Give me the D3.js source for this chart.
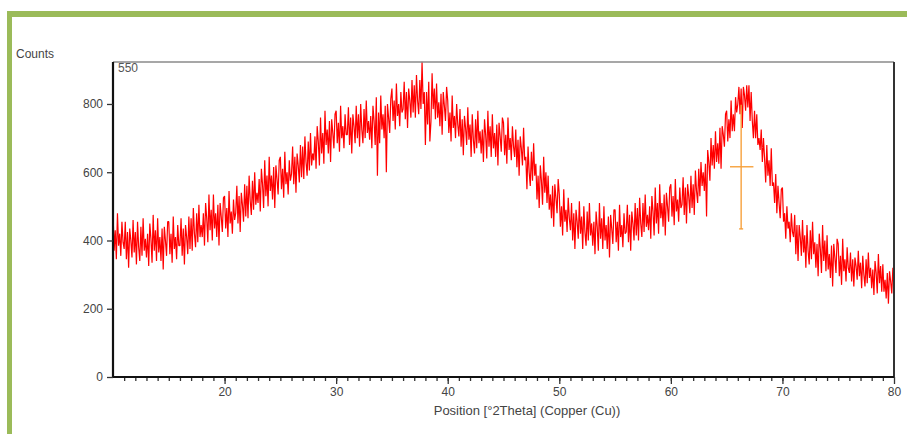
<!DOCTYPE html>
<meta charset="utf-8">

<style type="text/css">
	body {
		margin: 0;
		background: #ffffff;
	}
	svg {
		display: block;
		font-family: "Liberation Sans", Arial, sans-serif;
	}
</style>

<body>

</body>

<script src="https://d3js.org/d3.v7.min.js"></script>

<script>

	// scan settings
	var startAngle = 10;
	var stepSize = 0.1;

	// counts, one row per degree (N.0 ... N.9), last value at 80.0
	var counts = [
		490, 370, 430, 345, 480, 385, 420, 355, 455, 395,
		375, 455, 345, 425, 320, 435, 400, 350, 460, 365,
		425, 330, 455, 380, 340, 440, 355, 465, 370, 405,
		350, 420, 325, 450, 405, 335, 475, 370, 430, 340,
		465, 365, 410, 340, 435, 315, 440, 400, 355, 455,
		455, 360, 420, 335, 470, 375, 410, 345, 445, 385,
		385, 465, 355, 435, 330, 445, 410, 360, 470, 375,
		465, 370, 495, 420, 380, 480, 395, 505, 410, 445,
		410, 480, 385, 510, 465, 395, 535, 430, 490, 400,
		535, 435, 480, 410, 505, 385, 510, 470, 425, 525,
		530, 435, 495, 410, 545, 450, 485, 420, 520, 460,
		480, 560, 450, 530, 425, 540, 505, 455, 565, 470,
		560, 465, 590, 515, 475, 575, 490, 600, 505, 540,
		510, 580, 485, 610, 565, 495, 635, 530, 590, 500,
		645, 545, 590, 520, 615, 495, 620, 580, 535, 635,
		645, 550, 610, 525, 660, 565, 600, 535, 635, 575,
		595, 675, 565, 645, 540, 655, 620, 570, 680, 585,
		675, 580, 705, 630, 590, 690, 605, 715, 620, 655,
		635, 705, 610, 735, 690, 620, 760, 655, 715, 625,
		780, 680, 725, 655, 750, 630, 755, 715, 670, 770,
		780, 685, 745, 660, 795, 700, 735, 670, 770, 710,
		710, 790, 680, 760, 655, 770, 735, 685, 795, 700,
		770, 675, 800, 725, 685, 785, 700, 810, 715, 750,
		695, 765, 670, 795, 750, 680, 820, 590, 775, 685,
		825, 725, 770, 700, 795, 600, 800, 760, 715, 815,
		845, 750, 810, 725, 860, 765, 800, 735, 835, 775,
		785, 865, 755, 835, 730, 845, 810, 760, 870, 775,
		855, 760, 885, 810, 770, 870, 785, 924, 800, 835,
		680, 835, 740, 865, 690, 750, 890, 785, 845, 755,
		860, 760, 805, 735, 830, 710, 835, 795, 750, 850,
		810, 715, 775, 690, 825, 730, 765, 700, 800, 740,
		705, 785, 675, 755, 650, 765, 730, 680, 790, 695,
		740, 645, 770, 695, 655, 755, 670, 780, 685, 720,
		655, 725, 630, 755, 710, 640, 780, 675, 735, 645,
		770, 670, 715, 645, 740, 620, 745, 705, 660, 760,
		745, 650, 710, 625, 760, 665, 700, 635, 735, 675,
		645, 725, 615, 695, 590, 705, 670, 620, 730, 635,
		645, 550, 675, 600, 560, 660, 575, 685, 590, 625,
		520, 590, 495, 620, 575, 505, 645, 540, 600, 510,
		590, 490, 535, 465, 560, 440, 565, 525, 480, 580,
		535, 440, 500, 415, 550, 455, 490, 425, 525, 465,
		430, 510, 400, 480, 375, 490, 455, 405, 515, 420,
		470, 375, 500, 425, 385, 485, 400, 510, 415, 450,
		385, 455, 360, 485, 440, 370, 510, 405, 465, 375,
		500, 400, 445, 375, 470, 350, 475, 435, 390, 490,
		490, 395, 455, 370, 505, 410, 445, 380, 480, 420,
		425, 505, 395, 475, 370, 485, 450, 400, 510, 415,
		495, 400, 525, 450, 410, 510, 425, 535, 440, 475,
		430, 500, 405, 530, 485, 415, 555, 450, 510, 420,
		565, 465, 510, 440, 535, 415, 540, 500, 455, 555,
		565, 470, 530, 445, 580, 485, 520, 455, 555, 495,
		505, 585, 475, 555, 450, 565, 530, 480, 590, 495,
		565, 475, 605, 545, 510, 610, 530, 630, 560, 600,
		545, 625, 470, 665, 630, 575, 700, 620, 680, 610,
		720, 630, 685, 625, 730, 610, 735, 710, 675, 770,
		780, 690, 755, 700, 810, 720, 770, 720, 820, 775,
		800, 850, 770, 845, 730, 850, 825, 780, 855, 790,
		855, 750, 835, 750, 700, 780, 700, 770, 680, 700,
		665, 725, 630, 700, 640, 570, 680, 590, 635, 560,
		670, 560, 570, 510, 595, 480, 560, 510, 465, 550,
		555, 455, 480, 405, 500, 435, 455, 395, 480, 425,
		410, 475, 360, 445, 340, 445, 410, 355, 460, 365,
		415, 320, 445, 370, 330, 430, 345, 455, 360, 395,
		320, 390, 295, 420, 375, 305, 445, 340, 400, 310,
		415, 315, 360, 290, 385, 265, 390, 350, 305, 405,
		390, 295, 355, 270, 405, 310, 345, 280, 380, 320,
		305, 365, 280, 345, 265, 350, 325, 285, 370, 295,
		335, 260, 355, 300, 265, 345, 275, 365, 290, 320,
		260, 315, 240, 340, 305, 245, 360, 275, 325, 250,
		330, 250, 285, 230, 305, 215, 310, 280, 245, 320,
		255
	];

	var yTicks = [0, 200, 400, 600, 800];
	var xTicks = [20, 30, 40, 50, 60, 70, 80];

	// peak marker: position, mid height, low/high limits, width
	var peakPos = 66.3;
	var peakMid = 616;
	var peakLow = 434;
	var peakHigh = 798;
	var peakLeft = 65.3;
	var peakRight = 67.4;

	var width = 907;
	var height = 434;
	var plot = {left: 113, right: 894, top: 62, bottom: 377};

	var svg = d3.select("body").append("svg")
		.attr("width", width)
		.attr("height", height);

	// green frame
	svg.append("rect")
		.attr("x", 7).attr("y", 11)
		.attr("width", width - 7).attr("height", 6)
		.attr("fill", "#9bbb59");
	svg.append("rect")
		.attr("x", 7).attr("y", 11)
		.attr("width", 5).attr("height", height - 11)
		.attr("fill", "#9bbb59");

	var xScale = d3.scaleLinear()
		.domain([10, 80])
		.range([plot.left, plot.right]);

	var yScale = d3.scaleLinear()
		.domain([0, 923])
		.range([plot.bottom, plot.top]);

	var points = counts.map(function(d, i) {
		return [startAngle + i * stepSize, d];
	});

	// pattern
	svg.append("path")
		.datum(points)
		.attr("fill", "none")
		.attr("stroke", "#ff0000")
		.attr("stroke-width", 1.2)
		.attr("stroke-linejoin", "bevel")
		.attr("d", d3.line()
			.x(function(d) { return xScale(d[0]); })
			.y(function(d) { return yScale(d[1]); }));

	// peak marker
	var marker = svg.append("g")
		.attr("stroke", "#f7a13c")
		.attr("stroke-width", 1.4);
	marker.append("line")
		.attr("x1", xScale(peakPos)).attr("x2", xScale(peakPos))
		.attr("y1", yScale(peakLow)).attr("y2", yScale(peakHigh));
	marker.append("line")
		.attr("x1", xScale(peakLeft)).attr("x2", xScale(peakRight))
		.attr("y1", yScale(peakMid)).attr("y2", yScale(peakMid));
	marker.append("line")
		.attr("x1", xScale(peakPos) - 2).attr("x2", xScale(peakPos) + 2)
		.attr("y1", yScale(peakLow)).attr("y2", yScale(peakLow));

	// frame top and right
	svg.append("line")
		.attr("x1", plot.left).attr("x2", plot.right)
		.attr("y1", plot.top).attr("y2", plot.top)
		.attr("stroke", "#8a8a8a").attr("stroke-width", 1.5);
	svg.append("line")
		.attr("x1", plot.right).attr("x2", plot.right)
		.attr("y1", plot.top).attr("y2", plot.bottom)
		.attr("stroke", "#333333").attr("stroke-width", 2);

	// y axis
	var yAxis = svg.append("g")
		.attr("transform", "translate(" + plot.left + ",0)")
		.call(d3.axisLeft(yScale).tickValues(yTicks).tickSize(6).tickPadding(4));
	yAxis.select(".domain")
		.attr("d", "M0," + plot.top + "V" + plot.bottom)
		.attr("stroke", "#111").attr("stroke-width", 2.2);
	yAxis.selectAll(".tick line").attr("stroke", "#333").attr("stroke-width", 1.3);
	yAxis.selectAll(".tick text")
		.attr("fill", "#444")
		.attr("font-size", "12px")
		.attr("font-family", "Liberation Sans, Arial, sans-serif");

	// x axis, minor ticks every degree
	var xMinor = svg.append("g")
		.attr("transform", "translate(0," + plot.bottom + ")")
		.call(d3.axisBottom(xScale).tickValues(d3.range(11, 80, 1)).tickSize(4).tickFormat(""));
	xMinor.select(".domain").remove();
	xMinor.selectAll(".tick line").attr("stroke", "#333").attr("stroke-width", 1.3);

	var xAxis = svg.append("g")
		.attr("transform", "translate(0," + plot.bottom + ")")
		.call(d3.axisBottom(xScale).tickValues(xTicks).tickSize(7).tickPadding(3));
	xAxis.select(".domain")
		.attr("d", "M" + plot.left + ",0H" + plot.right)
		.attr("stroke", "#111").attr("stroke-width", 2.2);
	xAxis.selectAll(".tick line").attr("stroke", "#333").attr("stroke-width", 1.3);
	xAxis.selectAll(".tick text")
		.attr("fill", "#444")
		.attr("font-size", "12px")
		.attr("font-family", "Liberation Sans, Arial, sans-serif");

	// texts
	svg.append("text")
		.attr("x", 16).attr("y", 58)
		.attr("font-size", "12px")
		.attr("fill", "#444")
		.text("Counts");

	svg.append("text")
		.attr("x", plot.left + 5).attr("y", plot.top + 10)
		.attr("font-size", "12px")
		.attr("fill", "#555")
		.text("550");

	svg.append("text")
		.attr("x", 527).attr("y", 415)
		.attr("text-anchor", "middle")
		.attr("font-size", "13px")
		.attr("fill", "#444")
		.text("Position [°2Theta] (Copper (Cu))");

</script>
